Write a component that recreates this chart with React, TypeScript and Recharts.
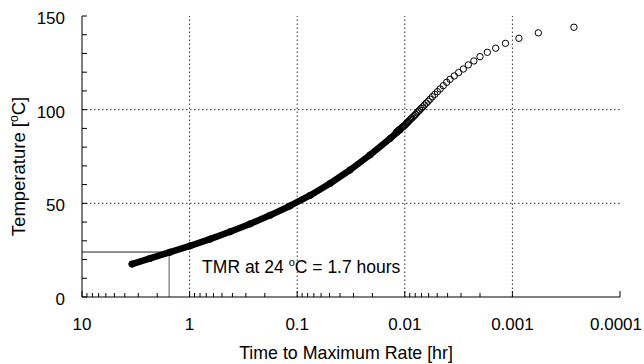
import { ReferenceLine, Scatter, ScatterChart, XAxis, YAxis } from 'recharts';

const FONT = '"Liberation Sans", Arial, Helvetica, sans-serif';
const CHART_W = 644;

// tick positions
const majorTicks = [10, 1, 0.1, 0.01, 0.001, 0.0001];
const minorSteps = [2, 3, 4, 5, 6, 7, 8, 9];
const xTicks = [...majorTicks, ...[1, 0.1, 0.01, 0.001].flatMap(d => minorSteps.map(m => m * d))];
const yTicks = [0, 10, 20, 30, 40, 50, 60, 70, 80, 90, 100, 110, 120, 130, 140, 150];
const yLabelTicks = [0, 50, 100, 150];
const gridX = [1, 0.1, 0.01, 0.001];
const gridY = [50, 100];

// lower part of the curve, where the circles merge into a solid band
const denseTmr = [3.43, 2.33, 1.52, 0.99, 0.646, 0.421, 0.275, 0.179, 0.117, 0.076, 0.0496, 0.0323, 0.0211, 0.0137, 0.0111];
const denseTemp = [17.6, 20.6, 23.9, 27.3, 30.9, 34.8, 39.0, 43.6, 48.6, 54.2, 60.6, 67.8, 75.8, 84.6, 89.2];

// upper part, individual open circles
const openTmr = [0.01208, 0.01187, 0.01167, 0.01147, 0.01128, 0.01106, 0.01085, 0.01064, 0.01043, 0.01024, 0.01004, 0.00983, 0.00962, 0.00942, 0.00922, 0.0090, 0.0088, 0.00859, 0.00837, 0.00816, 0.00794, 0.00772, 0.00749, 0.00727, 0.00704, 0.0068, 0.00656, 0.00631, 0.00606, 0.00581, 0.00554, 0.00526, 0.00498, 0.00469, 0.00439, 0.00408, 0.0038, 0.00347, 0.00316, 0.00286, 0.00257, 0.00228, 0.002, 0.00171, 0.00143, 0.00116, 0.00087, 0.000574, 0.000268];
const openTemp = [87.6, 88.0, 88.4, 88.8, 89.2, 89.6, 90.0, 90.4, 90.8, 91.2, 91.6, 92.1, 92.7, 93.2, 93.8, 94.4, 95.0, 95.5, 96.2, 96.8, 97.5, 98.3, 99.1, 99.8, 100.7, 101.5, 102.5, 103.5, 104.5, 105.6, 106.9, 108.2, 109.6, 111.1, 112.8, 114.6, 116.2, 118.0, 119.8, 121.7, 123.9, 126.0, 128.3, 130.6, 132.8, 135.4, 138.1, 141.0, 144.0];

// TMR annotation
const tmrAt = 1.55;
const tmrTemp = 24;

const denseData = denseTmr.map((tmr, i) => ({ tmr, temp: denseTemp[i] }));
const openData = openTmr.map((tmr, i) => ({ tmr, temp: openTemp[i] }));

const isMajor = (v: number) => majorTicks.some(m => Math.abs(Math.log10(v / m)) < 1e-6);

function XTick({ x, y, payload, side }: any) {
  const v = payload.value;
  const major = isMajor(v);
  const len = major ? 6 : 4;
  const dir = side === 'top' ? 1 : -1;
  // keep the last label inside the picture
  const lx = Math.min(x, CHART_W - 28);
  return (
    <g>
      <line x1={x} x2={x} y1={y} y2={y + dir * len} stroke="#000" strokeWidth={1} />
      {side === 'bottom' && major && (
        <text x={lx} y={y + 33} textAnchor="middle" fontSize={17} fontFamily={FONT} fill="#000">{String(v)}</text>
      )}
    </g>
  );
}

function YTick({ x, y, payload, side }: any) {
  const v = payload.value;
  const dir = side === 'left' ? 1 : -1;
  return (
    <g>
      <line x1={x} x2={x + dir * 5} y1={y} y2={y} stroke="#000" strokeWidth={1} />
      {side === 'left' && yLabelTicks.includes(v) && (
        <text x={x - 17} y={y + 8} textAnchor="end" fontSize={17} fontFamily={FONT} fill="#000">{v}</text>
      )}
    </g>
  );
}

function YTitle({ viewBox }: any) {
  const cx = viewBox.x + 25;
  const cy = viewBox.y + viewBox.height / 2 + 10;
  return (
    <text x={cx} y={cy} transform={`rotate(-90, ${cx}, ${cy})`} textAnchor="middle" fontSize={18.5} fontFamily={FONT} fill="#000">
      Temperature [<tspan fontSize={12} dy={-7}>o</tspan><tspan dy={7}>C]</tspan>
    </text>
  );
}

function XTitle({ viewBox }: any) {
  return (
    <text x={viewBox.x + viewBox.width / 2 - 5} y={viewBox.y + 62} textAnchor="middle" fontSize={17.8} fontFamily={FONT} fill="#000">
      Time to Maximum Rate [hr]
    </text>
  );
}

function TmrNote({ viewBox }: any) {
  return (
    <text x={viewBox.x + 33} y={viewBox.y + viewBox.height - 24} fontSize={17.5} fontFamily={FONT} fill="#000">
      TMR at 24 <tspan fontSize={11} dy={-7}>o</tspan><tspan dy={7}>C = 1.7 hours</tspan>
    </text>
  );
}

const openCircle = (props: any) => (
  <circle cx={props.cx} cy={props.cy} r={3.2} fill="none" stroke="#000" strokeWidth={1} />
);

export default function App() {
  return (
    <div style={{ position: 'absolute', left: 0, top: 0, width: 644, height: 364, background: '#fff' }}>
      <ScatterChart width={CHART_W} height={364} margin={{ top: 16, right: 24, bottom: 0, left: 0 }}>
        <XAxis xAxisId="bottom" dataKey="tmr" type="number" scale="log" domain={[0.0001, 10]} reversed allowDataOverflow
          ticks={xTicks} interval={0} tickSize={0} tickMargin={0} height={67}
          axisLine={{ stroke: '#000', strokeWidth: 1 }} tickLine={false}
          tick={(p: any) => <XTick {...p} side="bottom" />} label={<XTitle />} />
        <XAxis xAxisId="top" orientation="top" dataKey="tmr" type="number" scale="log" domain={[0.0001, 10]} reversed allowDataOverflow
          ticks={xTicks} interval={0} tickSize={0} tickMargin={0} height={0}
          axisLine={{ stroke: '#000', strokeWidth: 1 }} tickLine={false}
          tick={(p: any) => <XTick {...p} side="top" />} />
        <YAxis yAxisId="left" dataKey="temp" type="number" domain={[0, 150]} ticks={yTicks} interval={0} width={82}
          tickSize={0} tickMargin={0} axisLine={{ stroke: '#000', strokeWidth: 1 }} tickLine={false}
          tick={(p: any) => <YTick {...p} side="left" />} label={<YTitle />} />
        <YAxis yAxisId="right" orientation="right" dataKey="temp" type="number" domain={[0, 150]} ticks={yTicks} interval={0} width={0}
          tickSize={0} tickMargin={0} axisLine={{ stroke: '#000', strokeWidth: 1 }} tickLine={false}
          tick={(p: any) => <YTick {...p} side="right" />} />

        {gridX.map(v => (
          <ReferenceLine key={`gx${v}`} xAxisId="bottom" yAxisId="left" x={v} stroke="#333" strokeWidth={1} strokeDasharray="1.5 2.5" />
        ))}
        {gridY.map(v => (
          <ReferenceLine key={`gy${v}`} xAxisId="bottom" yAxisId="left" y={v} stroke="#333" strokeWidth={1} strokeDasharray="1.5 2.5" />
        ))}

        <ReferenceLine xAxisId="bottom" yAxisId="left" segment={[{ x: 10, y: tmrTemp }, { x: tmrAt, y: tmrTemp }]} stroke="#222" strokeWidth={1} />
        <ReferenceLine xAxisId="bottom" yAxisId="left" segment={[{ x: tmrAt, y: 0 }, { x: tmrAt, y: tmrTemp }]} stroke="#555" strokeWidth={1}
          label={<TmrNote />} />

        <Scatter xAxisId="bottom" yAxisId="left" data={denseData} isAnimationActive={false} lineType="joint"
          line={{ stroke: '#000', strokeWidth: 6.5, strokeLinecap: 'round', strokeLinejoin: 'round' }} shape={openCircle} />
        <Scatter xAxisId="top" yAxisId="right" data={openData} isAnimationActive={false} shape={openCircle} />
      </ScatterChart>
    </div>
  );
}
